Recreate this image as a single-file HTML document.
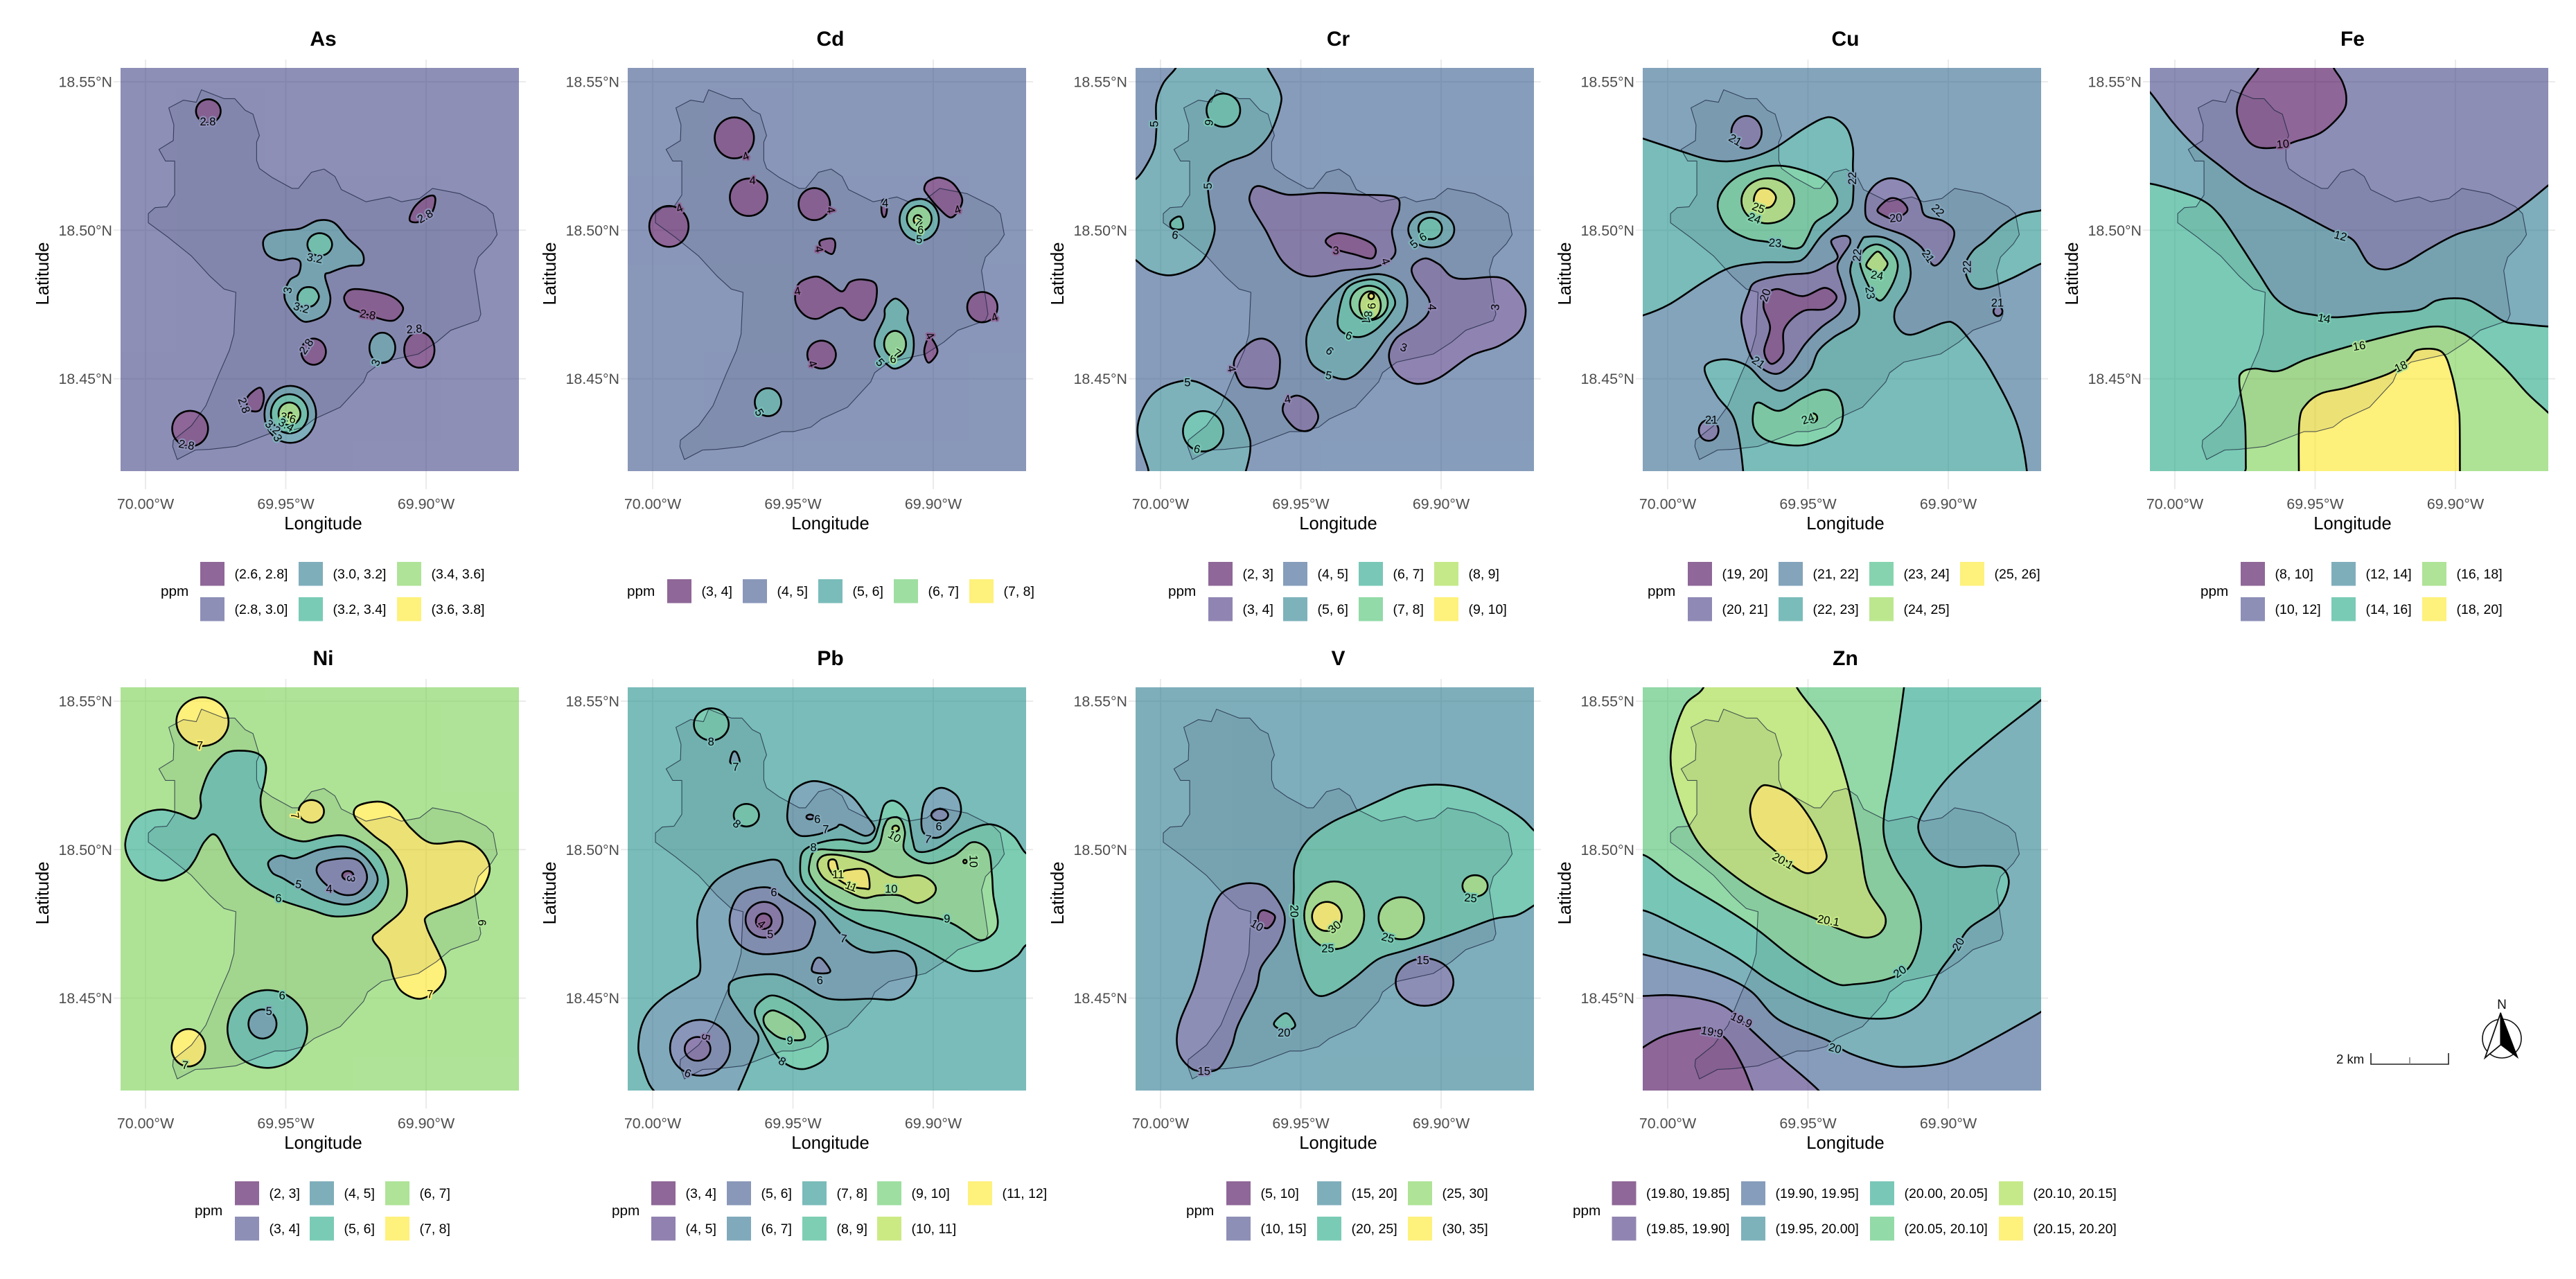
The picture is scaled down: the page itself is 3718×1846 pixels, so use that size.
<!DOCTYPE html>
<html lang="en">
<head>
<meta charset="utf-8">
<title>Heavy metal concentration maps</title>
<style>
html,body{margin:0;padding:0;background:#fff;}
svg{display:block;font-family:"Liberation Sans",Arial,sans-serif;}
</style>
</head>
<body>
<svg id="chart" xmlns="http://www.w3.org/2000/svg" width="3718" height="1846" viewBox="0 0 3718 1846">
  <rect x="0" y="0" width="3718" height="1846" fill="#fff"/>
  <g>
    <text x="3372" y="1535" font-size="18.6" fill="#111">2 km</text>
    <path d="M3422 1520V1536H3534V1520" fill="none" stroke="#222" stroke-width="1.6"/>
    <path d="M3478 1526V1536" fill="none" stroke="#888" stroke-width="1.6"/>
  </g>
  <g>
    <text x="3611" y="1456" font-size="19" text-anchor="middle" fill="#111">N</text>
    <circle cx="3611" cy="1499" r="28" fill="none" stroke="#111" stroke-width="1.6"/>
    <path d="M3609.3 1461.7L3586.7 1526.7L3609.3 1508Z" fill="#fff" stroke="#111" stroke-width="1.8"/>
    <path d="M3609.3 1461.7L3634 1526.7L3609.3 1508Z" fill="#000" stroke="#000" stroke-width="1"/>
  </g>
</svg>
<script>
// Map data units: x = milli-degrees east of 70.00°W, y = milli-degrees north of 18.40°N.
const lonTicks = [0, 50, 100];
const lonTickLabels = ["70.00°W", "69.95°W", "69.90°W"];
const latTicks = [150, 100, 50];
const latTickLabels = ["18.55°N", "18.50°N", "18.45°N"];

const boundary = [19.96,147.3,18.1,143.1,13.5,143.8,8.3,141.2,10.1,135.5,9.9,130.2,4.8,127.2,7.1,123.3,10.4,123.3,10.4,111.9,7.6,107.9,3.4,107.6,1,105.6,1,102.5,8.1,97.6,16.4,91.3,22.9,84.6,28,80.2,32.2,79.1,31.5,65,29.9,59.6,26.2,51.6,21.5,40.9,16.4,34.2,9.9,29.3,9.7,27.1,11.3,22.8,17.8,26,22.9,26.2,32.2,27.2,46.1,32.2,50.3,32.2,56.4,33.7,60.1,36.4,69.4,40.4,77.7,48.9,79.1,52,84.2,55.6,97.2,58.3,103.7,62.3,108.8,66.3,118.6,69.6,119.5,71.7,117.2,86.4,118.6,90.9,123.2,95.4,125.3,98.5,123.9,105.6,121.4,107.9,112.1,112.3,102.3,114.1,97.7,110.7,91.2,109.6,87,111.2,78.6,109.6,69.8,113.7,67.5,118.1,63.6,120.6,59.1,119.5,54.5,114.1,52.2,114.1,45.2,117.7,40.6,120.8,39.6,123.5,39.6,129.7,40.6,131.9,38.3,139.1,35.5,140.4,31.8,144.3,28,144.3];

const viridis5 = ["#440154","#3B528B","#21908C","#5DC863","#FDE725"];
const viridis6 = ["#440154","#414487","#2A788E","#22A884","#7AD151","#FDE725"];
const viridis7 = ["#440154","#443A83","#31688E","#21908C","#35B779","#8FD744","#FDE725"];
const viridis8 = ["#440154","#46337E","#365C8D","#277F8E","#1FA187","#4AC16D","#9FDA3A","#FDE725"];
const viridis9 = ["#440154","#472D7B","#3B528B","#2C728E","#21908C","#27AD81","#5DC863","#AADC32","#FDE725"];

const asLegend = ["(2.6, 2.8]","(2.8, 3.0]","(3.0, 3.2]","(3.2, 3.4]","(3.4, 3.6]","(3.6, 3.8]"];
const cdLegend = ["(3, 4]","(4, 5]","(5, 6]","(6, 7]","(7, 8]"];
const crLegend = ["(2, 3]","(3, 4]","(4, 5]","(5, 6]","(6, 7]","(7, 8]","(8, 9]","(9, 10]"];
const cuLegend = ["(19, 20]","(20, 21]","(21, 22]","(22, 23]","(23, 24]","(24, 25]","(25, 26]"];
const feLegend = ["(8, 10]","(10, 12]","(12, 14]","(14, 16]","(16, 18]","(18, 20]"];
const niLegend = ["(2, 3]","(3, 4]","(4, 5]","(5, 6]","(6, 7]","(7, 8]"];
const pbLegend = ["(3, 4]","(4, 5]","(5, 6]","(6, 7]","(7, 8]","(8, 9]","(9, 10]","(10, 11]","(11, 12]"];
const vLegend = ["(5, 10]","(10, 15]","(15, 20]","(20, 25]","(25, 30]","(30, 35]"];
const znLegend = ["(19.80, 19.85]","(19.85, 19.90]","(19.90, 19.95]","(19.95, 20.00]","(20.00, 20.05]","(20.05, 20.10]","(20.10, 20.15]","(20.15, 20.20]"];

// Regions: [bandIndex, x,y,x,y,...] closed contour, or [bandIndex,'e',cx,cy,rx,ry] roundish contour.
const asRegions = [
[0,'e',22.4,140.1,4.4,4],
[0,94.2,103.3,95.5,107.3,99,110.6,102.4,111.7,103.3,110,102,105.9,98,102.9],
[0,70.9,77.8,74.7,80.2,86.6,78.2,91.7,74.2,89.8,70.4,86,69.6,76.6,72.4,72.2,74.2],
[0,'e',97.6,59.7,5.4,6],
[0,'e',59.9,59.1,4.4,4.4],
[0,36.3,43.7,40.7,47,42.2,43.7,40.7,39.4,36.9,39.6],
[0,'e',15.9,33.2,6.4,6],
[2,41.9,95.9,43.8,98.6,48.9,99.9,55.2,100.6,61.5,103.3,67.1,102.6,72.2,97.2,77.2,92.5,77.2,88.5,72.2,87.9,65.9,85.8,64,84.5,65.9,77.1,64,71.8,58.9,69.4,55.2,69.8,50.8,74.5,49.5,78.5,51.4,83.2,54.5,85.2,55.2,89.2,52.6,90.5,47.6,89.9,43.2,91.9],
[3,'e',62.1,95.2,4.4,3.8],
[3,54.2,77.8,56.2,80.5,60,80.5,61.8,77.5,59.5,74.5,55.2,74.5],
[2,'e',84.4,60.4,4.6,5.1],
[2,'e',51.6,38,9.2,9.6],
[3,'e',51.3,38.2,6.6,6.6],
[4,'e',51.3,38.2,3.9,3.8],
[5,'e',51.6,37.6,0.8,1]
];
const asLabels = [["2.8",22.2,136.5,0,1],["2.8",99.7,104.6,-30,1],["2.8",79.2,71.5,10,0],["2.8",95.8,66.6,-5,1],["2.8",57.4,60.8,-55,1],["2.8",35,41,70,1],["2.8",14.6,27.6,10,1],["3.2",60.3,90.5,10,2],["3.2",55.5,73.8,15,2],["3",50.8,79.8,-80,2],["3",82.2,55.4,-70,2],["3.6",50.8,36.7,15,4],["3.4",50.1,34.3,30,3],["3.2",45.3,33.6,40,2],["3",47,30,60,2]];

const cdRegions = [
[0,'e',29.1,131.1,7,6.9],
[0,'e',34.2,111.1,6.7,6.3],
[0,'e',5.8,101.3,7,6.9],
[0,'e',57.6,108.8,5.6,5.4],
[0,'e',82.5,107.4,1,3],
[0,59.7,96.4,63.9,97.2,65.1,95.2,63.9,92,60.2,94],
[0,52.7,82.6,58.3,84.4,62.5,82.6,67.4,79.4,70.4,82.6,75,83.4,79.5,81.8,79.5,75.9,77.3,71.9,75,69.7,70.8,71.1,67.4,73.9,63,72.3,58.8,70.2,54.6,71.1,51.3,74.7,50.9,79],
[0,'e',60.2,58.1,5.1,4.7],
[0,96.8,114.1,98.2,116.5,102.4,117.7,107.1,115.7,110.3,110.6,108.9,106.6,106.1,104.3,102,107.4,97.8,112.1],
[0,'e',117.5,74.1,5.4,5.1],
[0,98.7,64,101.5,59.3,98.4,55.4,96.8,59.3],
[2,'e',95,103.5,7,7.1],
[3,'e',95,103.9,4.4,4.3],
[4,'e',94.5,103.5,1.5,1.6],
[2,86.6,77,90.8,73.5,90.8,69.6,92.9,64,92.7,58.1,90.8,55.4,86.6,53.4,83.8,54.6,80.1,58.5,79.2,63.2,82.5,70.3,82.9,73.9],
[3,'e',86.4,61.7,3.9,4.4],
[2,'e',41.1,42.1,4.7,4.7]
];
const cdLabels = [["4",33.2,124.8,-20,0],["4",35.6,116.6,0,0],["4",9.6,107.3,-20,0],["4",63.4,106.8,80,0],["4",82.9,109,0,1],["4",108.7,106.8,-20,0],["4",59.2,93.6,80,0],["4",51.6,79.4,-10,0],["4",56.9,55,70,0],["4",98.7,64.4,60,0],["4",121.9,70.6,-20,0],["5",95,96.8,0,2],["5",81,55.4,50,2],["5",37.9,38.6,60,2],["6",95.5,99.9,0,3],["6",85.7,56.4,0,3],["7",94.5,102.5,20,3],["7",87.1,58.5,30,3]];

const crRegions = [
[3,-14.1,118.7,-8.8,117.3,-2.8,126,-1.5,133.4,-1.5,142.8,1,149.5,5.4,154.6,6.7,158.8,36.3,158.8,38.2,154.6,42.6,146.8,42.6,141.4,38.8,132.1,32.5,126,23.7,122.7,17.4,118,17.4,109.3,19.3,99.9,15.5,90.5,9.8,86.5,2.9,84.8,-4,86.5,-8.8,89.9,-14.1,93.2],
[4,'e',22.4,140.4,6,5.6],
[4,3.5,102.6,5.4,104.3,7.3,104.3,7.9,100.6,4.2,100.6],
[3,-8.2,32.3,-5.3,41.6,0.4,47,9.8,49.4,17.4,47,26.2,41,31.2,31.6,32,26.2,30.4,18.9,27.5,11.5,-1.5,11.5,-4.5,20],
[4,'e',15.2,32.3,7.2,6.8],
[1,31.9,112,35,114.9,45.1,112,57.7,112.6,70.3,112,83.3,111.3,85.1,107.3,82.5,99.9,83.5,91.9,76.6,87.6,65.2,86.5,52.6,84.5,43.8,89.2,37.5,99.9,32.5,107.9],
[0,58.9,96.6,63.7,99,72.8,96.8,76.6,93.9,75.3,90.5,69,91.9,61.5,93.9],
[1,89.8,87.9,94.2,90.5,99.3,88.5,105.5,83.8,120.7,84.1,127,79.8,130.1,73.8,128.2,66.4,120.7,61.1,110.6,57.7,99.3,50.3,91.1,48.3,84.1,51.7,81.4,57.7,84.1,63.7,91.7,68.4,95.5,72.4,95.5,77.1,90.4,83.8],
[3,87.9,77.1,85.4,82.5,77.8,85.2,67.8,83.2,60.2,77.1,53.3,67.8,52,61.1,54.5,54.4,63.4,50.1,69,51,75.3,57,80.4,63.7,86.6,70.4],
[4,83.5,76.5,79.7,81.8,74.1,83.4,66.5,80.5,63.4,71.8,64,66.4,70.3,64,76.6,66.4,82.2,72.4],
[5,'e',74.3,75.5,6.7,5.8],
[6,'e',74.7,74.7,3.8,4.7],
[7,'e',75.1,77.8,1,1],
[3,'e',96.5,100.2,8.2,6],
[4,'e',96.1,100.6,4.2,3.6],
[1,26.2,55.7,31.2,61.7,36.3,63.5,40.7,61.1,42.6,55.7,40.7,47.4,33.8,47,28.7,48.3],
[1,44.5,42.3,48.9,44.3,53.9,41.6,56.2,37,53.3,32.7,48.2,33.2,43.8,38.3]
];
const crLabels = [["5",-2.1,135.8,-90,3],["5",17,114.9,-90,3],["5",9.6,48.6,0,3],["5",59.9,51,10,3],["5",90.4,95.2,-40,3],["6",17.1,136.3,100,4],["6",5.2,98.3,10,3],["6",13,26.2,15,4],["6",67.1,64.4,20,4],["6",60.2,59.3,40,3],["6",93.6,97.6,-30,4],["3",62.5,93.1,0,0],["3",86.6,60.4,20,1],["3",119.4,74.1,-85,1],["4",80.1,89.5,70,1],["4",96.7,74.1,90,1],["4",25.2,53.3,80,1],["4",45.3,43,-10,1],["9",75.1,74.5,90,6],["8",73.8,71.8,90,5],["7",73,69.4,70,4]];

const cuRegions = [
[3,-12.3,71.3,-8.9,71.3,0.7,75.1,12.8,82.6,22.1,87.3,33.2,89.1,44.4,89.3,49,90.9,54.6,97.9,61.1,103.5,65.3,107.4,66.2,113.3,66,121.6,66,127.9,63.9,134.2,59.2,137.8,54.6,137.4,47.2,133.4,37.9,127.5,29.5,124.4,21.2,123.2,13.7,124,4.5,126.7,-8.9,130.9,-12.3,131.9],
[4,17.9,107.4,19.3,112.9,24.9,118.1,34.2,121.2,41.6,121.6,50,119.6,56.5,116.5,60.4,110.6,58.8,106.6,52.7,102.7,50,97.9,47.6,94.4,43.5,94,36,96,28.6,97.2,21.2,101.1],
[5,'e',35.7,109.9,9.4,7.6],
[6,30.9,111.4,32.8,113.9,36.5,113.7,38.6,111,36.5,107.8,31.4,108.2],
[1,'e',28.1,133,5.4,5.5],
[1,70.4,107.4,71.3,112.1,75,116.1,80.1,117.5,86.2,115.3,89.9,109.8,91.7,105,98.2,103.1,102.1,99.5,100.1,93.2,95,88.1,90.3,94.4,84.3,98.3,76,101.1,71.3,103.5],
[0,74.8,107,79.2,110.7,83.4,109.8,85.4,106.6,81,103.9,76.9,105],
[3,13.3,52.2,14.7,55.4,21.2,56.5,28.6,54.2,34.2,49,40.2,45.9,46.2,48.7,50.9,53,53.7,59.3,59.2,64,67.1,68.8,68.1,75.1,65.7,83,65.3,88.1,69,96.4,71.3,97.8,77.8,97.3,84.3,93.2,86.6,86.1,85.2,79.8,81.1,73.5,81.5,68,86.6,64.8,98.2,68.8,102.4,68.4,107.5,63.2,115,53,124.2,35.6,128,19,128,5,27,5,27,18,24,35.6,17.5,44.3],
[1,26.3,71.1,28.6,78.2,31.4,82.6,41.6,84.9,50.9,85.7,56.5,88.1,60.6,90.9,58.3,96.4,63.4,98.1,65,95.6,60.6,88.5,62,82.2,63.4,76.7,61.1,71.9,54.6,67.2,49,61.7,44.4,55.4,39.7,51.8,35.1,52.6,30,56.9,27.2,64.8],
[0,39.3,80.2,48.1,77.8,56,80.6,60.2,77.4,56,73.5,48.1,72.7,41.6,66.8,41.1,58.5,37,55,34.4,59.3,36.5,67.2,34.2,73.9,35.1,78.2],
[4,68.5,89.3,70.4,93.6,75,95.2,80.1,92.4,82,87.7,79.7,81,75.5,76.3,71.3,81.8],
[5,70.8,88.5,74.6,92.8,77.3,90.5,78.3,88.3,75.5,85.3,72.7,86.5],
[3,108.9,93.2,113.1,96.4,119.6,101.9,126.1,105.4,132.7,106.6,137.2,107.4,137.2,89.3,132.7,88.6,123.3,84.1,114,80.6,109.4,80.6,106.8,83.8,106.1,88.5],
[1,'e',117.7,72.7,1.6,1.6],
[4,30.5,38.8,32.3,42,39.7,39.2,48.1,43.5,55.5,46.3,60.6,44.3,62.5,38.8,61,33,56,30,47,27.5,36,29,31,33],
[5,'e',51.8,36.8,1.5,1.5],
[1,'e',14.6,32.6,3.5,3.5]
];
const cuLabels = [["21",24,130.3,30,2],["21",92.7,91.2,55,2],["21",117.5,75.5,0,2],["21",32.3,55.4,35,2],["21",15.6,36,0,2],["22",65.9,117.5,-90,2],["22",96.2,106.6,45,2],["22",67.6,91.6,-85,2],["22",106.8,87.7,-90,2],["23",38.3,95.6,5,3],["23",72,78.9,80,3],["24",30.9,103.9,20,4],["24",74.6,84.7,10,4],["24",50,36.4,-20,4],["25",32.3,107.4,20,5],["20",81.3,104,-5,1],["20",34.9,78.1,-70,1]];

const feRegions = [
[3,-8.9,115.7,-0.6,113.7,9.6,110.2,16.1,105,23.5,94.8,30,85.3,35.6,77.4,42.1,73.1,49.5,71.5,57.8,70.7,72.7,72.1,86.6,73.1,93.1,76.3,99.6,77.1,105.2,76.3,111.7,72.7,117.7,69.2,123.8,68.4,132.8,67.6,140,67.6,140,10,-15,10,-15,115.7],
[4,24,52.2,28.6,53.4,37,52.6,46.7,56.5,60.6,60.5,72.7,63.6,86.6,66.8,94.1,67.6,99.6,66.4,106.1,63.2,117.3,53.8,125.6,45.1,132.8,38.8,140,32,140,10,25.5,5,25.3,20,25,35,23,48.3],
[5,44.4,35.6,46.7,41.2,52.3,45.1,61.6,47.1,76.4,51.8,82.9,56.2,86.6,59.7,95,59.1,98.7,51.4,101,40.4,101.5,35,101.6,18,101.7,5,44.2,5,44.2,18],
[1,-8.9,146.5,-0.6,136.2,6.8,128.7,15.1,122.4,26.3,114.5,41.1,107.4,55.1,100.3,63.4,96.8,69,88.9,75,86.8,82,88.9,90.3,93.6,100.6,98.7,113.6,102.3,122.8,107.4,132.8,114.9,140,121,140,165,-15,165,-15,152],
[0,29.7,154.5,24.4,147.6,22.1,140.1,24.9,131.9,29.1,128.1,36.5,127.9,43,129.9,52.3,133,59.7,139.7,61.1,144.5,59.7,150,56.7,154.5,54,160,32,160]
];
const feLabels = [["10",38.5,128.9,-5,0],["12",59,98,15,2],["14",53.2,70.2,10,3],["16",65.7,60.9,-10,4],["18",80.6,54,-25,4]];

const niRegions = [
[5,'e',20.3,143.1,9.3,8.2],
[5,'e',59.1,112.9,4.5,3.8],
[5,'e',15.3,33.3,6,6.3],
[5,74.9,114.1,79.6,115.9,85.1,115.9,89.8,113.2,94.4,107.4,101.9,102.2,113,102.8,119.5,99.8,122.7,93.6,119.5,86.4,113,82.4,100.9,78,100.2,73.9,104.6,65,107,58.8,104.6,53.4,98.1,49.8,91.6,52,88.4,57,86.5,63.2,81,69.9,84.2,73.5,92.4,81.1,92.4,91.8,87.9,99.8,81.4,104.7,74.9,110.5],
[3,17.4,110.5,19.7,114.1,19.7,118.6,22.9,126.6,28.5,132.4,35,133.3,40.6,132,42.9,128.4,42.4,123,41,116.8,42.4,110.5,47.1,105.6,55.9,102.8,63.8,104.3,71.2,104.7,78.6,101.6,84.2,96.3,86.5,89.1,84.2,82.9,78.6,78.8,67.5,77.5,59.1,79.7,49.9,82.4,44.3,84.6,36.9,88.7,31.3,94.5,25.3,104.7,21.1,102.8,17.4,96.3,13.6,92.2,6.2,89.6,-1.2,91.8,-5.8,96.7,-7.2,102.1,-4.9,108.8,-0.3,112.3,5.8,113.5,11.8,112.3],
[2,43.8,95.8,48,98,53.6,97.1,61.9,100,71.2,101,77.7,98,82.4,91.8,81.9,87.3,77.7,83.3,71.2,81.5,62.9,83.3,54.5,87.3,48.9,90.4,45.2,92.2],
[1,61,92.7,62.9,95.8,71.2,97.1,75.9,96.3,78.6,92.7,78.5,88.7,74.9,85.1,69.4,85.1,63.8,88.7],
[0,'e',72.1,91.3,2,1.5],
[3,'e',43.4,39.6,14.2,13.1],
[2,'e',41.7,41.3,5,4.9]
];
const niLabels = [["7",19.4,134.9,0,5],["7",53.1,111.4,80,5],["7",101.4,51.2,0,5],["7",14.1,27.3,5,4],["6",47.4,83.5,0,3],["6",48.7,50.7,0,3],["6",119.7,75.4,90,4],["5",54.5,88.2,10,2],["5",44,45.5,0,2],["4",65.5,86.6,0,1],["3",73.1,90.2,100,1]];

const pbRegions = [
[3,3.4,16.8,-4,28.4,-4.9,36.4,-2.1,44.5,4.4,50.7,12.7,55.6,16.9,59.2,16,71.2,16.4,79.3,21.1,88.2,28.5,93.1,37.8,95.8,44.8,96.3,48,90.9,53.6,84.6,60.1,79.3,66.1,72.6,71.2,67.7,77.7,65.4,87,65.9,92.6,63.2,94,57.9,91.6,52.9,86.1,49.6,77.7,49.8,62.9,49.8,52.6,54.7,44.3,57.9,34.1,57.4,28,55.6,27.1,52.5,28,49.8,33.1,42.7,37.6,37.3,35.9,31.1,30.4,18.7,28.5,15],
[5,36.4,45.4,39.6,49.8,44.3,50.7,52.6,46.7,60.1,40,62.4,34.6,61,29.3,54.5,26.2,48.9,27.1,44.3,30.6,39.6,38.2],
[6,40.1,44.5,43.4,45.8,49.9,42.7,53.6,39.1,53.6,36,46.1,36.4,41.5,39.1,39.6,41.8],
[2,27.4,76.6,31.3,85.1,40.6,87.3,46.1,84.2,56.8,77.5,57.3,73,54.5,67.2,47.1,65.4,37.8,65,30.4,68.6],
[1,'e',39.7,76.4,6.6,6],
[0,'e',39.6,75.9,2.8,2.6],
[2,56.8,59.2,57.8,62.8,60.1,63.4,63.3,59.2,60.5,58.3],
[2,'e',16.9,33.3,10.7,9.4],
[1,'e',16,32.9,4.6,4],
[5,'e',20.9,142.2,6.2,5.4],
[3,27.6,129.5,28.5,132.7,29.9,132.7,31,129.7,29.4,128.8],
[5,'e',33.4,111.6,4.5,3.8],
[3,48,112.3,49.9,119.5,56.4,123,63.8,121.7,71.2,117.7,76.3,111.4,79.1,107,75.5,104.7,67.5,108.3,65.2,107.4,59.1,105.2,52.6,104.7,48.9,107.9],
[2,'e',56.1,111,1.3,0.8],
[3,96.3,106.1,96.3,114.1,99.1,119,103.3,120.8,108.4,118.1,109.9,113.2,107.9,108.8,101.9,104.1],
[2,'e',102.3,111.7,3,2],
[5,54,99.8,52.6,95.4,53.6,89.1,60.1,83.3,66.6,78.4,74.9,74.4,86.1,71.2,96.3,66.8,105.6,61.9,113,59.2,122.3,60.1,129.7,64.1,132.9,67.7,138,70.4,138,97.1,132.9,98.9,128.9,104.3,123.2,107.9,117.7,108.3,109.3,105.2,100.9,100.3,94.4,99.4,92.6,103.4,90.7,112.3,86.5,116.3,82.6,115,80.5,107.9,78.6,103.4,74.9,102.1,67.5,103.4,60.1,102.5],
[6,55.9,95.4,58.2,99.8,66.6,99.8,79.1,99.8,82.5,107.9,84.3,110.5,88,110.5,89.9,106.1,89.9,99.4,98.1,95.4,107.4,98,113.9,102.5,119.5,99.8,120.9,91.8,121.4,84.6,123,75.7,121.4,71.7,116.7,69.5,111.1,72.6,107.4,74.8,101.9,76.8,91.6,78,82.4,79.3,71.2,80.2,61.9,84.6,56.4,90.9],
[7,58.7,94.9,61,98,67.5,98,76.8,95.4,86.1,90.9,95.4,91.3,100.5,88.2,100,84.6,94.4,82,87.9,84.6,80.5,84.6,74.9,83.8,67.5,86.9,61,90.4],
[8,62.9,96.3,65.2,96.3,66.6,92.2,69.2,93.1,75.9,93.1,77.3,87.3,75.4,86.9,70.3,87.8,65.6,90.4,62.9,93.6],
[7,'e',86.6,107.1,1.2,1],
[7,'e',111.3,96,0.6,0.6]
];
const pbLabels = [["8",20.8,136.2,0,4],["8",29.9,108.6,40,4],["8",57.3,100.7,0,4],["8",46.1,28.6,30,4],["7",29.6,127.7,0,4],["7",61.7,106.7,0,3],["7",98.1,103.4,10,3],["7",68,69.9,10,3],["6",58.7,110.1,0,3],["6",102,107.7,0,3],["6",43.2,85.5,0,2],["6",59.6,55.8,0,3],["6",12.5,24.6,20,2],["10",86.1,104.3,30,6],["10",114.2,96.1,90,6],["10",85,86.6,0,6],["9",104.9,76.6,0,5],["9",48.9,35.5,0,5],["11",66.1,91.6,0,7],["11",70.7,87.5,20,7],["5",41.9,71.4,0,1],["5",18.8,36.9,100,1],["4",38.7,74.8,40,0]];

const vRegions = [
[3,47.5,86.4,48,95.4,52.6,103.4,61,109.2,70.3,113.2,78.6,116.8,87.9,120.6,98.1,121.9,109.3,120.4,121.4,115,128.8,110.5,133,106.5,138,102.5,138,84.6,132.9,81.1,126.9,77.9,118.6,76.6,104.6,71.7,87.9,66.3,77.7,63.2,69.4,57,61.9,52.1,55.9,50.9,51.7,56.1,48.5,66.8,47.3,77.5],
[4,'e',61.9,77.9,10.7,11.4],
[4,'e',85.8,76.9,8.1,7.1],
[4,'e',112.1,87.8,4.5,3.6],
[5,'e',59.3,77.5,5.3,4.9],
[3,40.4,41.2,43.4,44.5,45.7,44.5,48,40.7,44.3,39],
[1,5.8,36.4,7.1,42.7,11.8,53.4,14.6,63.2,17.4,76.6,21.1,84.6,26.6,87.8,32.2,88.7,37.8,87.3,42.9,81.1,44.3,75.7,42,68.6,35.9,60.5,34.1,53.4,27.6,40.9,25.3,33.7,20.6,26.2,13.6,25.5,9.9,27.1,6.7,31.1],
[0,35,78.4,36.9,79.6,40.6,77.9,40.1,75.3,37.8,73.5,35,75.3],
[1,'e',94.1,55.4,10.3,8]
];
const vLabels = [["20",47.5,79.3,90,3],["20",44,38.2,0,2],["25",59.6,66.6,0,3],["25",81,70.2,15,3],["25",110.5,83.6,5,3],["30",62.1,73.8,-40,4],["15",15.5,25.3,0,1],["15",93.5,62.6,0,1],["10",34.3,74.4,30,1]];

const znRegions = [
[2,-9,64.8,3.4,61.9,17.4,58.3,29.4,52.5,39.6,42.7,56.4,36,64.7,31.5,77.7,27.5,87,26.9,99.1,28.4,110.2,33.3,132.6,45.1,140,50,140,5,-15,5,-15,66],
[1,-9,50.7,0.7,51,11.8,49.8,21.1,46.7,30.4,38.7,39.6,30.6,54,18.7,60,10,-15,10,-15,50.7],
[0,-9,33.3,-1.2,37.3,9.5,39.6,15.5,39.6,21.5,35.5,26.6,27.5,30.4,18.7,34,10,-15,10,-15,29],
[4,-9,79.6,6.2,73,23.9,64.1,35.9,56.1,49.9,49.1,63.8,44.5,73.1,43.1,82.4,44,90.7,48.9,96.8,58.8,102.3,65.9,107.4,73.5,117.6,80.2,121.5,88.2,119.5,93.6,113,94.6,102.8,94.3,94.4,98,89.3,107,92.6,115,100.9,125.3,114.9,136.9,132.6,150,140,156,140,165,-15,165,-15,77],
[5,-9,98.3,3.4,90,17.4,82,31.3,73.5,45.2,63.2,59.1,55.2,66.6,54.7,78.6,56.5,86.5,61,90.3,73,87.9,83.8,81.4,93.6,77.3,103.4,77.3,113.2,80,127.5,84.2,154.5,85,165,-15,165,-15,94],
[6,12.7,154.5,5.8,148,1.1,132.9,3.4,118.6,10.9,102.5,22.9,91.8,35.9,83.8,50.8,77.5,62.9,72.6,70.3,70.4,75.9,72.1,77.5,77.5,71.2,87.3,68.4,102.5,63.8,123,57.3,140,46.1,154.5,42,165,16,165],
[7,29.4,114.1,32.7,120.8,36.9,121.4,44.3,118.1,50.8,110.5,55.9,100.7,55.9,95.8,48.9,92.2,36.9,100.7,31.3,106.1]
];
const znLabels = [["20.1",41,96.1,30,6],["20.1",57.3,76,10,6],["20",82.8,58.8,-35,4],["20",103.7,68.1,-60,3],["20",59.6,33,15,3],["19.9",26.2,42.5,25,1],["19.9",15.8,38.5,10,1]];

const layout = [
  {name:"As", slug:"as", left:174, top:98, bg:1, palette:viridis6, regions:asRegions, labels:asLabels, legend:asLegend, rows:2, ppmX:232, swatchX:[289,431,573]},
  {name:"Cd", slug:"cd", left:906, top:98, bg:1, palette:viridis5, regions:cdRegions, labels:cdLabels, legend:cdLegend, rows:1, ppmX:905, swatchX:[963,1072,1181,1290,1399]},
  {name:"Cr", slug:"cr", left:1639, top:98, bg:2, palette:viridis8, regions:crRegions, labels:crLabels, legend:crLegend, rows:2, ppmX:1686, swatchX:[1744,1852,1961,2070]},
  {name:"Cu", slug:"cu", left:2371, top:98, bg:2, palette:viridis7, regions:cuRegions, labels:cuLabels, legend:cuLegend, rows:2, ppmX:2378, swatchX:[2436,2567,2698,2829]},
  {name:"Fe", slug:"fe", left:3103, top:98, bg:2, palette:viridis6, regions:feRegions, labels:feLabels, legend:feLegend, rows:2, ppmX:3176, swatchX:[3234,3365,3496]},
  {name:"Ni", slug:"ni", left:174, top:992, bg:4, palette:viridis6, regions:niRegions, labels:niLabels, legend:niLegend, rows:2, ppmX:281, swatchX:[339,447,556]},
  {name:"Pb", slug:"pb", left:906, top:992, bg:4, palette:viridis9, regions:pbRegions, labels:pbLabels, legend:pbLegend, rows:2, ppmX:883, swatchX:[940,1049,1158,1266,1397]},
  {name:"V", slug:"v", left:1639, top:992, bg:2, palette:viridis6, regions:vRegions, labels:vLabels, legend:vLegend, rows:2, ppmX:1712, swatchX:[1770,1901,2032]},
  {name:"Zn", slug:"zn", left:2371, top:992, bg:3, palette:viridis8, regions:znRegions, labels:znLabels, legend:znLegend, rows:2, ppmX:2270, swatchX:[2326.5,2513,2699,2885]}
];

const NS = "http://www.w3.org/2000/svg";
const root = document.getElementById("chart");
const PANEL_W = 575, PANEL_H = 582;

function create(tag, attrs, parent) {
  const el = document.createElementNS(NS, tag);
  for (const k in attrs) el.setAttribute(k, attrs[k]);
  parent.appendChild(el);
  return el;
}
function mix(hex) {
  const n = parseInt(hex.slice(1), 16);
  const f = c => Math.round(c * 0.6 + 255 * 0.4);
  return "rgb(" + f(n >> 16) + "," + f((n >> 8) & 255) + "," + f(n & 255) + ")";
}
function vertices(r) {
  if (r[1] === "e") {
    const pts = [];
    for (let i = 0; i < 12; i++) {
      const a = i / 12 * 2 * Math.PI;
      pts.push(r[2] + r[4] * Math.cos(a), r[3] + r[5] * Math.sin(a));
    }
    return pts;
  }
  return r.slice(1);
}
function smoothPath(flat, xs, ys) {
  const P = [];
  for (let i = 0; i < flat.length; i += 2) P.push([xs(flat[i]), ys(flat[i + 1])]);
  const n = P.length;
  let d = "M" + P[0][0].toFixed(1) + " " + P[0][1].toFixed(1);
  for (let i = 0; i < n; i++) {
    const p0 = P[(i - 1 + n) % n], p1 = P[i], p2 = P[(i + 1) % n], p3 = P[(i + 2) % n];
    const c1x = p1[0] + (p2[0] - p0[0]) / 6, c1y = p1[1] + (p2[1] - p0[1]) / 6;
    const c2x = p2[0] - (p3[0] - p1[0]) / 6, c2y = p2[1] - (p3[1] - p1[1]) / 6;
    d += "C" + c1x.toFixed(1) + " " + c1y.toFixed(1) + " " + c2x.toFixed(1) + " " + c2y.toFixed(1) + " " + p2[0].toFixed(1) + " " + p2[1].toFixed(1);
  }
  return d + "Z";
}
function linearPath(flat, xs, ys) {
  let d = "";
  for (let i = 0; i < flat.length; i += 2) {
    d += (i ? "L" : "M") + xs(flat[i]).toFixed(1) + " " + ys(flat[i + 1]).toFixed(1);
  }
  return d + "Z";
}

layout.forEach(function (p) {
  const L = p.left, T = p.top, R = L + PANEL_W, B = T + PANEL_H;
  const xs = m => L + 36 + m * 4.05;
  const ys = m => T + 20 + (150 - m) * 4.286;
  const mid = (L + R) / 2 + 5;

  const panel = create("g", {}, root);
  
  

  const title = create("text", {x: mid, y: T - 32, "font-size": 30, "font-weight": "bold", "text-anchor": "middle", fill: "#000"}, panel);
  
  
  title.textContent = p.name;

  lonTicks.forEach(function (t, i) {
    const line = create("line", {x1: xs(t), x2: xs(t), y1: T - 12, y2: B + 26, stroke: "#ebebeb", "stroke-width": 2}, panel);
    
    
    const tick = create("text", {x: xs(t), y: B + 54.5, "font-size": 21.4, "text-anchor": "middle", fill: "#4d4d4d"}, panel);
    
    
    tick.textContent = lonTickLabels[i];
  });
  latTicks.forEach(function (t, i) {
    const line = create("line", {x1: L - 10, x2: R + 10, y1: ys(t), y2: ys(t), stroke: "#ebebeb", "stroke-width": 2}, panel);
    
    
    const tick = create("text", {x: L - 12, y: ys(t) + 7.5, "font-size": 21.4, "text-anchor": "end", fill: "#4d4d4d"}, panel);
    
    
    tick.textContent = latTickLabels[i];
  });

  const xTitle = create("text", {x: mid, y: B + 84, "font-size": 25.6, "text-anchor": "middle", fill: "#000"}, panel);
  
  
  xTitle.textContent = "Longitude";
  const yTitle = create("text", {transform: "translate(" + (L - 104) + "," + ((T + B) / 2 + 6) + ") rotate(-90)", "font-size": 25.6, "text-anchor": "middle", fill: "#000"}, panel);
  
  
  yTitle.textContent = "Latitude";

  const defs = create("defs", {}, panel);
  
  
  const clip = create("clipPath", {id: "clip-" + p.slug}, defs);
  
  
  const clipRect = create("rect", {x: L, y: T, width: PANEL_W, height: PANEL_H}, clip);
  
  

  const fills = create("g", {opacity: 0.6, "clip-path": "url(#clip-" + p.slug + ")"}, panel);
  
  
  const base = create("rect", {x: L, y: T, width: PANEL_W, height: PANEL_H, fill: p.palette[p.bg]}, fills);
  
  
  const paths = p.regions.map(r => smoothPath(vertices(r), xs, ys));
  p.regions.forEach(function (r, i) {
    const band = create("path", {d: paths[i], fill: p.palette[r[0]]}, fills);
    
    
  });

  const outline = create("path", {d: linearPath(boundary, xs, ys), fill: "rgba(20,30,40,0.07)", stroke: "rgba(25,35,60,0.75)", "stroke-width": 1.1, "stroke-linejoin": "round"}, panel);
  
  

  const lines = create("g", {fill: "none", stroke: "#000", "stroke-width": 2.6, "stroke-linejoin": "round", "clip-path": "url(#clip-" + p.slug + ")"}, panel);
  
  
  paths.forEach(function (d) {
    const c = create("path", {d: d}, lines);
    
    
  });

  p.labels.forEach(function (l) {
    const t = create("text", {
      transform: "translate(" + xs(l[1]) + "," + ys(l[2]) + ") rotate(" + l[3] + ")",
      "font-size": 16.5, "text-anchor": "middle", "dominant-baseline": "central", fill: "#000",
      stroke: mix(p.palette[l[4]]), "stroke-width": 4.5, "stroke-linejoin": "round",
      style: "paint-order:stroke fill"
    }, panel);
    
    
    t.textContent = l[0];
  });

  const legend = create("g", {}, panel);
  
  
  const ppm = create("text", {x: p.ppmX, y: B + 180, "font-size": 20.7, fill: "#000"}, legend);
  
  
  ppm.textContent = "ppm";
  p.legend.forEach(function (txt, i) {
    const col = Math.floor(i / p.rows), row = i % p.rows;
    const sy = p.rows === 1 ? B + 156 : B + 131 + row * 51;
    const sx = p.swatchX[col];
    const sw = create("rect", {x: sx, y: sy, width: 35, height: 34.5, fill: mix(p.palette[i])}, legend);
    
    
    const lab = create("text", {x: sx + 49.5, y: sy + 24, "font-size": 19.5, fill: "#000"}, legend);
    
    
    lab.textContent = txt;
  });
});
</script>
</body>
</html>
